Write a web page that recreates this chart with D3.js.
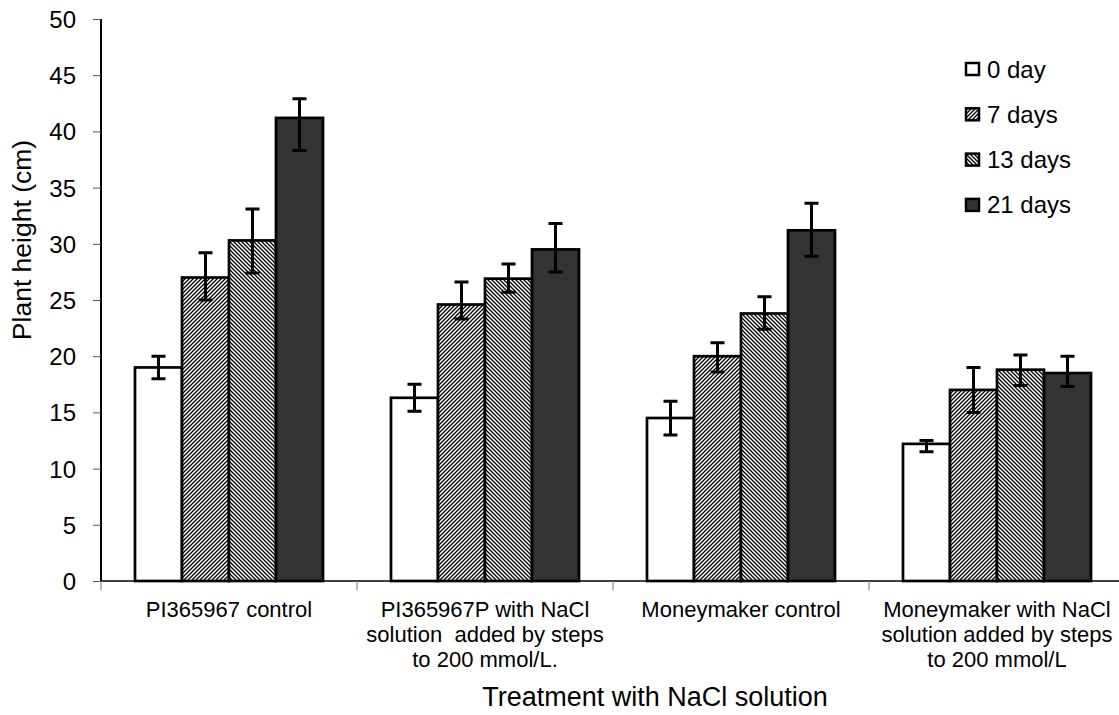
<!DOCTYPE html>
<html><head><meta charset="utf-8">
<script src="https://cdn.jsdelivr.net/npm/d3@7"></script>
<style>body{margin:0;background:#fff}svg{display:block}text{font-family:"Liberation Sans",Arial,sans-serif;fill:#000}</style>
</head><body><svg id="c" width="1119" height="715"></svg>
<script>
const categories = ["PI365967 control","PI365967P with NaCl|solution  added by steps|to 200 mmol/L.","Moneymaker control","Moneymaker with NaCl|solution added by steps|to 200 mmol/L"];
const series = ["0 day","7 days","13 days","21 days"];
const values = {
  "0 day":   [19.0, 16.3, 14.5, 12.2],
  "7 days":  [27.0, 24.6, 20.0, 17.0],
  "13 days": [30.3, 26.9, 23.8, 18.8],
  "21 days": [41.2, 29.5, 31.2, 18.5]
};
const errLow = {
  "0 day":   [18.0, 15.1, 13.0, 11.5],
  "7 days":  [25.0, 23.3, 18.6, 15.0],
  "13 days": [27.4, 25.7, 22.4, 17.4],
  "21 days": [38.3, 27.5, 28.9, 17.3]
};
const errHigh = {
  "0 day":   [20.0, 17.5, 16.0, 12.5],
  "7 days":  [29.2, 26.6, 21.2, 19.0],
  "13 days": [33.1, 28.2, 25.3, 20.1],
  "21 days": [42.9, 31.8, 33.6, 20.0]
};
const yTicks = [0,5,10,15,20,25,30,35,40,45,50];
const fills = {"0 day":"#ffffff","7 days":"url(#hatchA)","13 days":"url(#hatchB)","21 days":"#333333"};

const svg = d3.select("#c");
const defs = svg.append("defs");
function hatch(id, d){
  const p = defs.append("pattern").attr("id",id).attr("patternUnits","userSpaceOnUse").attr("width",4).attr("height",4);
  p.append("rect").attr("width",4).attr("height",4).attr("fill","#fff");
  p.append("path").attr("d",d).attr("stroke","#000").attr("stroke-width",1.3);
}
hatch("hatchA","M-1,1 l2,-2 M0,4 l4,-4 M3,5 l2,-2");
hatch("hatchB","M-1,3 l2,2 M0,0 l4,4 M3,-1 l2,2");

const y = d3.scaleLinear().domain([0,50]).range([581,19]);
const x0 = d3.scaleBand().domain(categories).range([101,1125]).padding(0);
const x1 = d3.scaleBand().domain(series).range([34,222]).padding(0);

// y axis
const yAx = svg.append("g").attr("transform","translate(101,0)")
  .call(d3.axisLeft(y).tickValues(yTicks).tickSize(8).tickPadding(17));
yAx.select(".domain").attr("stroke","#000").attr("stroke-width",2).attr("d","M0,19V581");
yAx.selectAll(".tick line").attr("stroke","#555").attr("stroke-width",1);
yAx.selectAll("text").attr("font-size",24).attr("font-family","Liberation Sans, Arial, sans-serif").attr("dy","0.35em");

// bars
const g = svg.append("g");
categories.forEach((c,i)=>{
  series.forEach(s=>{
    const bx = x0(c)+x1(s);
    const v = values[s][i];
    g.append("rect").attr("x",bx).attr("y",y(v)).attr("width",x1.bandwidth()).attr("height",y(0)-y(v))
      .attr("fill",fills[s]).attr("stroke","#000").attr("stroke-width",2.7);
  });
});
// error bars
categories.forEach((c,i)=>{
  series.forEach(s=>{
    const cx = x0(c)+x1(s)+x1.bandwidth()/2;
    const lo = y(errLow[s][i]), hi = y(errHigh[s][i]);
    g.append("path").attr("d",`M${cx},${lo}V${hi}M${cx-7},${lo}H${cx+7}M${cx-7},${hi}H${cx+7}`)
      .attr("stroke","#000").attr("stroke-width",3).attr("fill","none");
  });
});

// x axis
svg.append("line").attr("x1",101).attr("x2",1125).attr("y1",581).attr("y2",581).attr("stroke","#000").attr("stroke-width",1.3);
const bounds = categories.map(c=>x0(c)).concat([x0(categories[3])+x0.bandwidth()]);
bounds.forEach(b=>svg.append("line").attr("x1",b).attr("x2",b).attr("y1",581).attr("y2",590).attr("stroke","#777").attr("stroke-width",1));

// category labels
categories.forEach(c=>{
  const lines = c.split("|");
  const cx = x0(c)+x0.bandwidth()/2;
  const t = svg.append("text").attr("text-anchor","middle").attr("font-size",22).attr("y",617).style("white-space","pre");
  lines.forEach((l,k)=>t.append("tspan").attr("x",cx).attr("dy",k?25:0).text(l));
});

// axis titles
svg.append("text").attr("x",655).attr("y",706).attr("text-anchor","middle").attr("font-size",27).text("Treatment with NaCl solution");
svg.append("text").attr("transform","translate(31,240) rotate(-90)").attr("text-anchor","middle").attr("font-size",26.5).text("Plant height (cm)");

// legend
const lg = svg.append("g");
series.forEach((s,k)=>{
  const ly = 69 + k*45.3;
  lg.append("rect").attr("x",966).attr("y",ly-6).attr("width",13).attr("height",12)
    .attr("fill",fills[s]).attr("stroke","#000").attr("stroke-width",2.5);
  lg.append("text").attr("x",987).attr("y",ly+8.5).attr("font-size",24).text(s);
});
</script></body></html>
